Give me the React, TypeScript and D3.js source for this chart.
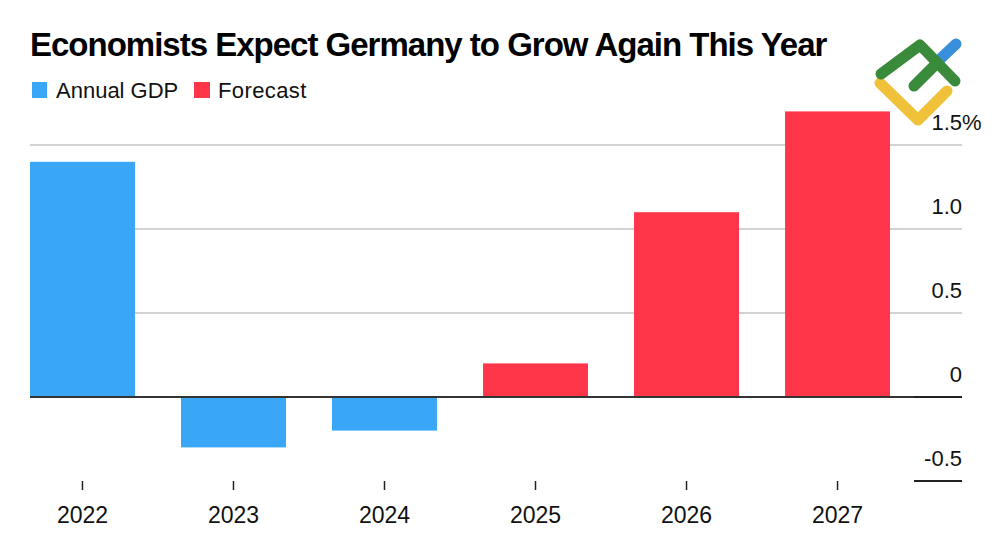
import * as d3 from 'd3';

const WIDTH = 1000;
const HEIGHT = 545;

const years = ['2022', '2023', '2024', '2025', '2026', '2027'];
const gdp = [1.4, -0.3, -0.2, 0.2, 1.1, 1.7];
const isForecast = [false, false, false, true, true, true];
const yTicks = [-0.5, 0, 0.5, 1.0, 1.5];
const yTickLabels = ['-0.5', '0', '0.5', '1.0', '1.5'];

const BLUE = '#3aa6f6';
const RED = '#ff3649';
const FONT = '"Liberation Sans", Arial, Helvetica, sans-serif';

const PLOT = { left: 30, right: 962, barsRight: 890, top: 145, bottom: 481 };

const Logo = () => (
  <g fill="none" strokeLinecap="round" strokeLinejoin="round" strokeWidth={11}>
    <path d="M937,62 L956,44" stroke="#3a8fdc" />
    <path d="M880,83 L918,120 L947,91" stroke="#f0c23a" />
    <path d="M881,74 L920,45 L955,81" stroke="#3a8a3c" />
    <path d="M914,86 L937,63" stroke="#3a8a3c" />
  </g>
);

export default function App() {
  const x = d3
    .scaleBand<string>()
    .domain(years)
    .range([PLOT.left, PLOT.barsRight])
    .paddingInner(0.305)
    .paddingOuter(0);

  const y = d3
    .scaleLinear()
    .domain([-0.5, 1.5])
    .range([PLOT.bottom, PLOT.top]);

  const y0 = y(0);
  const topTick = yTicks[yTicks.length - 1];

  return (
    <svg
      width={WIDTH}
      height={HEIGHT}
      style={{ position: 'absolute', left: 0, top: 0, background: '#fff' }}
      fontFamily={FONT}
    >
      <rect width={WIDTH} height={HEIGHT} fill="#fff" />
      <text
        x={30}
        y={56}
        fontSize={33}
        fontWeight="bold"
        letterSpacing={-1}
        fill="#000"
      >
        Economists Expect Germany to Grow Again This Year
      </text>

      {/* legend */}
      <rect x={32} y={82} width={15} height={16} fill={BLUE} />
      <text x={56} y={98} fontSize={22} fill="#111">
        Annual GDP
      </text>
      <rect x={194} y={82} width={16} height={16} fill={RED} />
      <text x={218} y={98} fontSize={22} letterSpacing={0.4} fill="#111">
        Forecast
      </text>

      {/* gridlines */}
      {yTicks.map((t, i) => {
        if (t <= 0) return null;
        return (
          <line
            key={i}
            x1={PLOT.left}
            x2={PLOT.right}
            y1={y(t)}
            y2={y(t)}
            stroke="#d2d2d2"
            strokeWidth={2}
          />
        );
      })}

      {/* bars */}
      {years.map((yr, i) => {
        const v = gdp[i];
        return (
          <rect
            key={yr}
            x={x(yr)}
            width={x.bandwidth()}
            y={Math.min(y(v), y0)}
            height={Math.abs(y(v) - y0)}
            fill={isForecast[i] ? RED : BLUE}
          />
        );
      })}

      {/* zero line */}
      <line x1={PLOT.left} x2={PLOT.right} y1={y0} y2={y0} stroke="#333" strokeWidth={2} />
      <line x1={914} x2={PLOT.right} y1={y0} y2={y0} stroke="#222" strokeWidth={2} />
      <line x1={914} x2={PLOT.right} y1={y(-0.5)} y2={y(-0.5)} stroke="#222" strokeWidth={2} />

      {/* y labels */}
      {yTicks.map((t, i) => (
        <text
          key={i}
          x={PLOT.right}
          y={y(t) - 15}
          textAnchor="end"
          fontSize={22}
          fill="#111"
        >
          {yTickLabels[i]}
        </text>
      ))}
      <text x={PLOT.right} y={y(topTick) - 15} fontSize={22} fill="#111">
        %
      </text>

      {/* x ticks and labels */}
      {years.map((yr) => {
        const cx = (x(yr) ?? 0) + x.bandwidth() / 2;
        return (
          <g key={yr}>
            <line x1={cx} x2={cx} y1={481} y2={490} stroke="#222" strokeWidth={1.5} />
            <text x={cx} y={523} textAnchor="middle" fontSize={23} fill="#111">
              {yr}
            </text>
          </g>
        );
      })}

      <Logo />
    </svg>
  );
}
